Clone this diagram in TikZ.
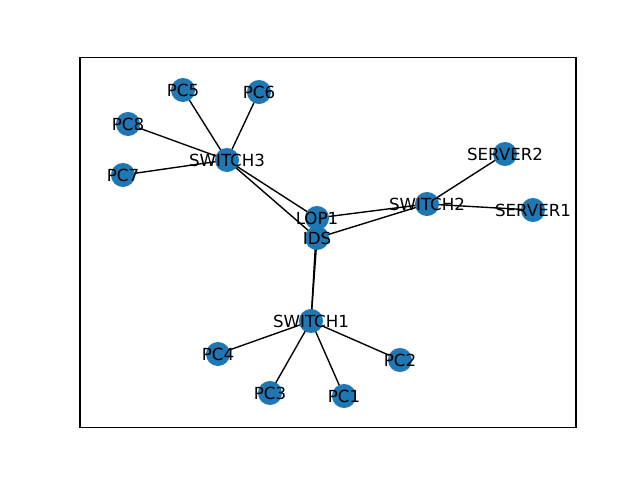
\documentclass[tikz,border=0pt]{standalone}
\usepackage{fontspec}
\setmainfont{DejaVu Sans}
\usetikzlibrary{backgrounds}
\definecolor{nxblue}{HTML}{1F77B4}
\tikzset{
  vtx/.style={circle, fill=nxblue, draw=none, minimum size=17.32pt, inner sep=0pt},
  lbl/.style={font=\fontsize{12pt}{14pt}\selectfont, inner sep=0pt, text=black},
  edge/.style={draw=black, line width=1pt},
  frame/.style={draw=black, line width=0.8pt}
}
\begin{document}
\begin{tikzpicture}[x=0.72pt, y=-0.72pt]
\useasboundingbox (0,0) rectangle (640,480);
\draw[frame] (80,57.6) rectangle (576,427.2);
% vertices
\node[vtx] (PC5) at (183,90) {};
\node[vtx] (PC6) at (259,92) {};
\node[vtx] (PC8) at (128,124) {};
\node[vtx] (PC7) at (123,175) {};
\node[vtx] (SWITCH3) at (227,160) {};
\node[vtx] (LOP1) at (317,218) {};
\node[vtx] (IDS) at (317,238) {};
\node[vtx] (SWITCH2) at (427,204) {};
\node[vtx] (SERVER2) at (505,154) {};
\node[vtx] (SERVER1) at (533,210) {};
\node[vtx] (SWITCH1) at (311,321) {};
\node[vtx] (PC4) at (218,354) {};
\node[vtx] (PC3) at (270,393) {};
\node[vtx] (PC1) at (344,396) {};
\node[vtx] (PC2) at (400,360) {};
% edges
\begin{pgfonlayer}{background}
\foreach \a/\b in {SWITCH3/PC5, SWITCH3/PC6, SWITCH3/PC8, SWITCH3/PC7,
  SWITCH3/LOP1, SWITCH3/IDS, SWITCH2/LOP1, SWITCH2/IDS, SWITCH2/SERVER1,
  SWITCH2/SERVER2, SWITCH1/IDS, SWITCH1/LOP1, SWITCH1/PC1, SWITCH1/PC2,
  SWITCH1/PC3, SWITCH1/PC4}
  \draw[edge] (\a.center) -- (\b.center);
\end{pgfonlayer}
% labels
\foreach \n in {PC5, PC6, PC8, PC7, SWITCH3, SWITCH2, SERVER2, SERVER1,
  SWITCH1, PC4, PC3, PC1, PC2, IDS, LOP1}
  \node[lbl] at (\n.center) {\n};
\end{tikzpicture}
\end{document}
